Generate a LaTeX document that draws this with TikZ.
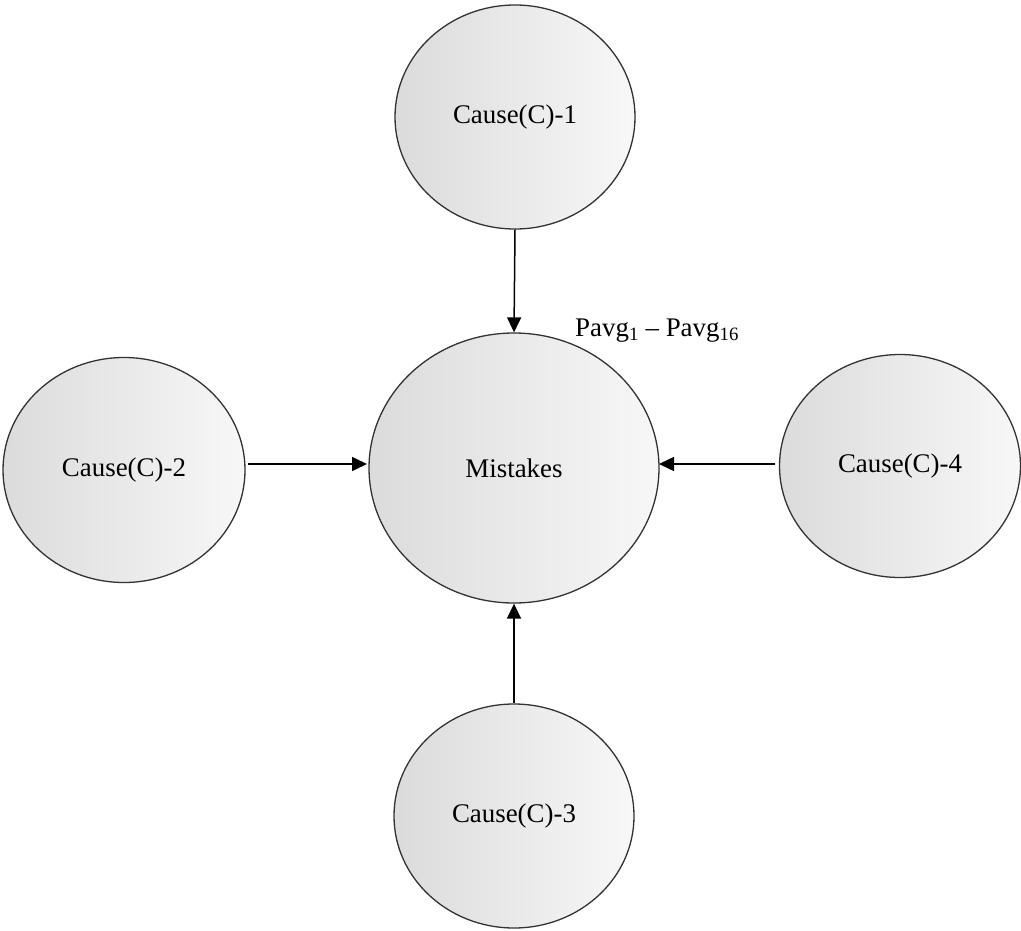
\documentclass[tikz,border=0pt]{standalone}
\usepackage{fontspec}
\setmainfont{Liberation Serif}
\usetikzlibrary{shapes.geometric,arrows.meta}
\begin{document}
\begin{tikzpicture}[x=1bp,y=-1bp,
  bubble/.style={ellipse,draw=black!80,line width=1.3bp,
    left color=black!14,right color=black!3,
    font=\fontsize{27}{32}\selectfont,inner sep=0pt},
  link/.style={line width=1.5bp,-{Triangle[length=15bp,width=14bp]}}]
  \useasboundingbox (0,0) rectangle (1021,931);
  \node[bubble,minimum width=240bp,minimum height=224bp] (c1) at (515,117) {Cause(C)-1};
  \node[bubble,minimum width=290bp,minimum height=270bp] (m) at (514,468) {Mistakes};
  \node[bubble,minimum width=242bp,minimum height=225bp] (c2) at (124,470) {Cause(C)-2};
  \node[bubble,minimum width=241bp,minimum height=223bp] (c4) at (900,466) {Cause(C)-4};
  \node[bubble,minimum width=240bp,minimum height=224bp] (c3) at (514,816) {Cause(C)-3};
  \node[font=\fontsize{27}{32}\selectfont,anchor=west,inner sep=0pt] (lab) at (575,331)
    {Pavg\textsubscript{1} – Pavg\textsubscript{16}};
  \coordinate (c2e) at (248,464);
  \coordinate (c4w) at (775,464);
  \coordinate (mw) at (367,464);
  \coordinate (me) at (659,464);
  \draw[link] (c1.south) -- (m.north);
  \draw[link] (c2e) -- (mw);
  \draw[link] (c4w) -- (me);
  \draw[link] (c3.north) -- (m.south);
\end{tikzpicture}
\end{document}
